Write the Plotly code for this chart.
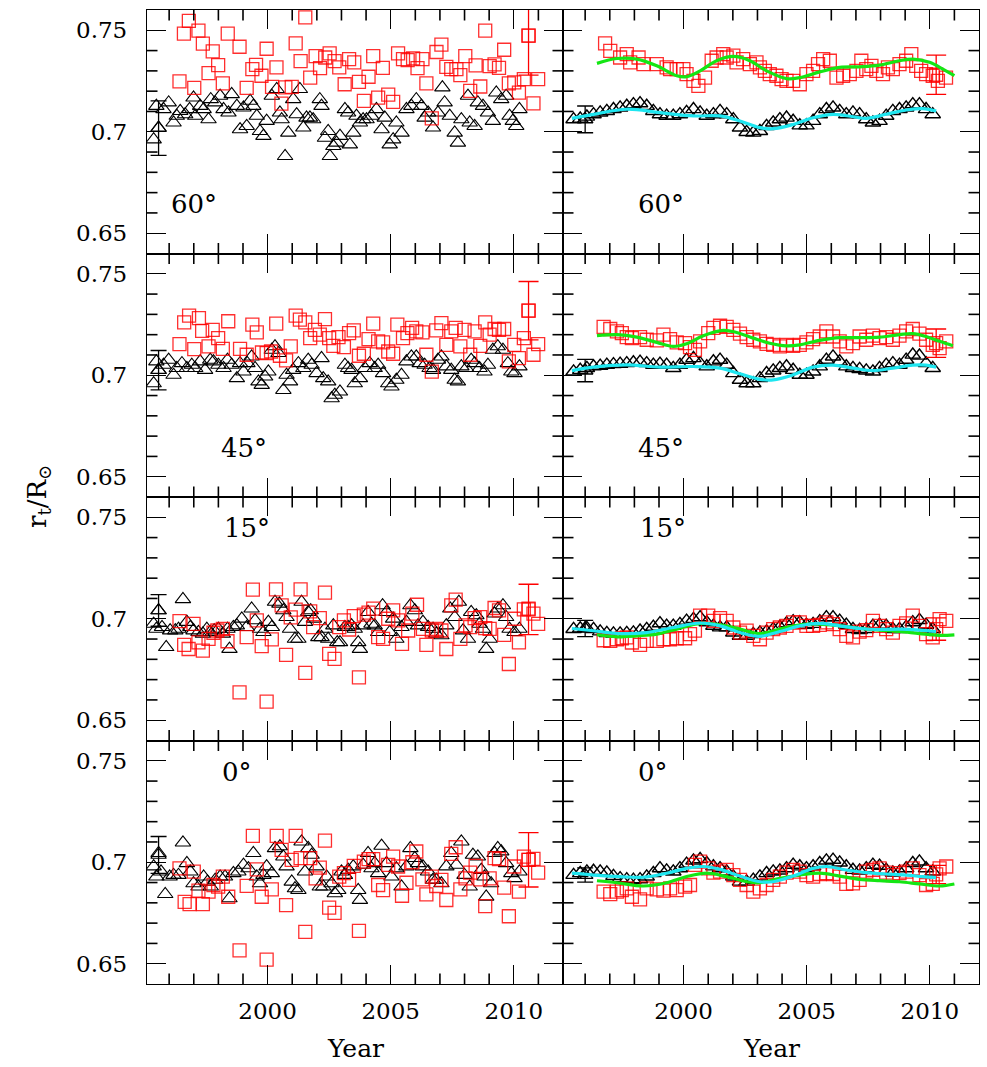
import plotly.graph_objects as go
from plotly.subplots import make_subplots

# ---------------- LEFT COLUMN ----------------
# 60 deg
L60_TRI_YR = [1995.37,1995.57,1995.48,1995.77,1995.98,1996.18,1996.31,1996.45,1996.65,1996.83,
              1996.99,1997.06,1997.26,1997.40,1997.60,1997.69,1997.87,1998.07,1998.21,1998.41,
              1998.54,1998.75,1998.88,1999.02,1999.15,1999.29,1999.42,1999.56,1999.69,1999.83,
              1999.96,2000.17,2000.37,2000.50,2000.57,2000.71,2000.84,2001.04,2001.18,2001.31,
              2001.45,2001.58,2001.72,2001.85,2002.12,2002.19,2002.33,2002.46,2002.53,2002.67,
              2002.80,2002.94,2003.14,2003.27,2003.34,2003.48,2003.61,2003.75,2003.88,2004.02,
              2004.22,2004.42,2004.63,2004.76,2004.96,2005.10,2005.23,2005.44,2005.64,2005.84,
              2006.04,2006.25,2006.38,2006.52,2006.72,2006.92,2007.10,2007.19,2007.40,2007.60,
              2007.73,2007.87,2008.14,2008.21,2008.41,2008.54,2008.75,2008.95,2009.15,2009.29,
              2009.49,2009.69,2009.83,2009.96,2010.10,2010.23]
L60_TRI_R = [0.6962,0.7020,0.7127,0.7111,0.7144,0.7045,0.7078,0.7102,0.7086,0.7111,
             0.7168,0.7078,0.7127,0.7111,0.7061,0.7160,0.7144,0.7177,0.7111,0.7094,
             0.7185,0.7127,0.7012,0.7119,0.7028,0.7152,0.7127,0.7078,0.7003,0.6979,
             0.7053,0.7177,0.7210,0.7094,0.7061,0.6880,0.6995,0.7160,0.7086,0.7210,
             0.7020,0.7069,0.7069,0.7061,0.7160,0.7127,0.6970,0.7003,0.6880,0.6929,
             0.6946,0.6979,0.7111,0.7094,0.6937,0.6995,0.7078,0.7045,0.7061,0.7061,
             0.7078,0.7111,0.7012,0.7069,0.6937,0.6962,0.7045,0.6995,0.7111,0.7127,
             0.7160,0.7127,0.7069,0.7094,0.7020,0.7094,0.7218,0.7144,0.7078,0.6995,
             0.6946,0.7061,0.7177,0.7045,0.7028,0.7144,0.7127,0.7094,0.7053,0.7193,
             0.7160,0.7177,0.7078,0.7053,0.7028,0.7111]
L60_SQ_YR = [1996.42,1996.60,1996.80,1997.02,1997.19,1997.37,1997.60,1997.77,1997.99,1998.18,
             1998.38,1998.86,1999.15,1999.38,1999.53,1999.75,1999.96,2000.18,2000.36,2000.56,
             2000.72,2000.98,2001.14,2001.34,2001.53,2001.73,2001.95,2002.13,2002.34,2002.52,
             2002.72,2002.91,2003.13,2003.31,2003.52,2003.71,2003.91,2004.10,2004.29,2004.49,
             2004.68,2004.90,2005.10,2005.30,2005.50,2005.69,2005.91,2006.09,2006.29,2006.45,
             2006.67,2006.86,2007.06,2007.26,2007.46,2007.67,2007.83,2008.03,2008.23,2008.45,
             2008.64,2008.84,2009.02,2009.22,2009.40,2009.61,2009.80,2010.02,2010.21,2010.41,
             2010.60,2010.80,2010.99]
L60_SQ_R = [0.7248,0.7484,0.7546,0.7216,0.7498,0.7434,0.7289,0.7396,0.7328,0.7238,
            0.7484,0.7419,0.7216,0.7309,0.7330,0.7276,0.7409,0.7221,0.7317,0.7139,
            0.7219,0.7221,0.7436,0.7348,0.7564,0.7267,0.7373,0.7314,0.7366,0.7386,
            0.7348,0.7317,0.7234,0.7358,0.7342,0.7246,0.7152,0.7271,0.7373,0.7168,
            0.7315,0.7183,0.7147,0.7386,0.7358,0.7353,0.7361,0.7314,0.7358,0.7238,
            0.7066,0.7393,0.7429,0.7320,0.7309,0.7309,0.7279,0.7373,0.7201,0.7327,
            0.7223,0.7498,0.7323,0.7332,0.7315,0.7404,0.7238,0.7243,0.7193,0.7259,
            0.7474,0.7140,0.7259]

# 45 deg
L45_TRI_YR = [1995.37,1995.57,1995.48,1995.77,1995.98,1996.18,1996.31,1996.52,1996.72,1996.92,
              1997.06,1997.26,1997.46,1997.67,1997.80,1998.00,1998.21,1998.37,1998.54,1998.75,
              1998.88,1999.02,1999.18,1999.35,1999.49,1999.63,1999.76,1999.90,2000.03,2000.17,
              2000.30,2000.44,2000.64,2000.77,2000.91,2001.04,2001.25,2001.45,2001.65,2001.79,
              2001.99,2002.19,2002.26,2002.46,2002.60,2002.73,2002.94,2003.14,2003.27,2003.41,
              2003.54,2003.75,2003.95,2004.15,2004.35,2004.49,2004.69,2004.90,2005.03,2005.23,
              2005.44,2005.64,2005.84,2006.04,2006.18,2006.38,2006.58,2006.72,2006.92,2007.06,
              2007.26,2007.46,2007.60,2007.73,2007.87,2008.07,2008.27,2008.41,2008.61,2008.81,
              2008.95,2009.15,2009.35,2009.56,2009.76,2009.90,2010.03,2010.23]
L45_TRI_R = [0.6960,0.7026,0.7068,0.7051,0.7076,0.7002,0.7035,0.7059,0.7035,0.7051,
             0.7035,0.7068,0.7026,0.7076,0.7068,0.7051,0.7035,0.7076,0.7051,0.6985,
             0.7059,0.7018,0.7059,0.7092,0.7035,0.6969,0.6952,0.6993,0.7018,0.7125,
             0.7142,0.7109,0.6927,0.7002,0.6969,0.7026,0.7059,0.7035,0.7076,0.7051,
             0.7010,0.7084,0.6985,0.6969,0.6886,0.6903,0.6919,0.7051,0.7035,0.7026,
             0.6960,0.6985,0.7035,0.7059,0.7035,0.7051,0.7010,0.6960,0.6944,0.6977,
             0.7002,0.7068,0.7092,0.7092,0.7059,0.7051,0.7035,0.7026,0.7076,0.7092,
             0.7043,0.7026,0.6977,0.6969,0.7043,0.7035,0.7076,0.7059,0.7035,0.7018,
             0.7051,0.7125,0.7142,0.7125,0.7059,0.7018,0.7010,0.7043]
L45_SQ_YR = [1996.42,1996.61,1996.81,1997.02,1997.21,1997.34,1997.60,1997.77,1997.99,1998.18,
             1998.40,1998.88,1999.15,1999.38,1999.56,1999.77,1999.96,2000.14,2000.35,2000.50,
             2000.75,2000.94,2001.14,2001.31,2001.53,2001.73,2001.92,2002.12,2002.33,2002.50,
             2002.67,2002.88,2003.10,2003.31,2003.50,2003.71,2003.91,2004.10,2004.29,2004.49,
             2004.69,2004.90,2005.10,2005.27,2005.50,2005.68,2005.87,2006.04,2006.29,2006.45,
             2006.67,2006.85,2007.06,2007.26,2007.46,2007.64,2007.83,2008.00,2008.23,2008.41,
             2008.64,2008.84,2009.02,2009.22,2009.40,2009.61,2009.80,2010.02,2010.21,2010.41,
             2010.60,2010.80,2010.99]
L45_SQ_R = [0.7153,0.7261,0.7294,0.7129,0.7282,0.7219,0.7142,0.7224,0.7183,0.7130,
            0.7266,0.7130,0.7101,0.7249,0.7211,0.7112,0.7109,0.7117,0.7254,0.7096,
            0.7073,0.7142,0.7294,0.7274,0.7261,0.7183,0.7224,0.7200,0.7277,0.7183,
            0.7145,0.7188,0.7139,0.7208,0.7221,0.7096,0.7106,0.7178,0.7254,0.7167,
            0.7162,0.7117,0.7106,0.7249,0.7183,0.7208,0.7233,0.7216,0.7211,0.7101,
            0.7018,0.7221,0.7257,0.7150,0.7216,0.7233,0.7142,0.7224,0.7101,0.7216,
            0.7145,0.7261,0.7200,0.7228,0.7224,0.7228,0.7068,0.7150,0.7084,0.7183,
            0.7318,0.7101,0.7153]

# 15 deg
L15_TRI_YR = [1995.37,1995.57,1995.48,1995.71,1995.88,1996.04,1996.25,1996.38,1996.56,1996.72,
              1996.86,1996.99,1997.19,1997.37,1997.53,1997.67,1997.83,1998.00,1998.18,1998.37,
              1998.45,1998.61,1998.75,1998.95,1999.15,1999.35,1999.49,1999.69,1999.83,2000.03,
              2000.17,2000.30,2000.48,2000.64,2000.77,2000.91,2001.11,2001.25,2001.38,2001.52,
              2001.65,2001.75,2001.88,2002.06,2002.19,2002.33,2002.46,2002.67,2002.83,2002.94,
              2003.14,2003.27,2003.41,2003.54,2003.68,2003.75,2003.88,2004.08,2004.22,2004.35,
              2004.49,2004.67,2004.83,2004.96,2005.10,2005.23,2005.44,2005.64,2005.80,2005.98,
              2006.11,2006.31,2006.52,2006.72,2006.85,2007.06,2007.26,2007.42,2007.60,2007.77,
              2007.94,2008.14,2008.27,2008.48,2008.61,2008.75,2008.88,2009.02,2009.22,2009.35,
              2009.56,2009.69,2009.83,2010.03,2010.23]
L15_TRI_R = [0.6975,0.7041,0.6950,0.6959,0.6860,0.6942,0.6942,0.6950,0.7096,0.6984,
             0.6959,0.6942,0.6934,0.6926,0.6950,0.6934,0.6942,0.6950,0.6926,0.6950,
             0.6851,0.6959,0.6967,0.7000,0.6959,0.7050,0.6992,0.6950,0.6934,0.6984,
             0.6959,0.7083,0.7074,0.7041,0.7008,0.6950,0.6901,0.6901,0.7083,0.6984,
             0.7033,0.7041,0.7000,0.6909,0.6909,0.6950,0.6901,0.6967,0.6884,0.6884,
             0.6959,0.6959,0.6967,0.6950,0.6884,0.6851,0.6967,0.7033,0.6975,0.6967,
             0.6934,0.7066,0.7033,0.6934,0.7000,0.6901,0.6959,0.6984,0.7066,0.7041,
             0.6967,0.6984,0.6959,0.6950,0.6926,0.6918,0.6967,0.7050,0.7008,0.7083,
             0.6942,0.6901,0.7033,0.7017,0.6975,0.6950,0.6851,0.6901,0.7025,0.7050,
             0.7066,0.7008,0.6950,0.6934,0.6950]
L15_SQ_YR = [1996.42,1996.61,1996.79,1996.99,1997.19,1997.37,1997.60,1997.80,1997.96,1998.18,
             1998.37,1998.86,1999.15,1999.40,1999.56,1999.76,1999.96,2000.17,2000.34,2000.57,
             2000.75,2000.94,2001.14,2001.34,2001.53,2001.73,2001.85,2002.12,2002.33,2002.50,
             2002.72,2002.91,2003.10,2003.31,2003.50,2003.71,2003.91,2004.10,2004.29,2004.49,
             2004.69,2004.90,2005.10,2005.30,2005.46,2005.71,2005.88,2006.07,2006.31,2006.45,
             2006.67,2006.85,2007.06,2007.26,2007.46,2007.64,2007.83,2008.04,2008.23,2008.41,
             2008.64,2008.84,2009.02,2009.22,2009.40,2009.61,2009.80,2010.02,2010.21,2010.41,
             2010.60,2010.80,2010.99]
L15_SQ_R = [0.6988,0.6871,0.6851,0.6975,0.6884,0.6843,0.6901,0.6931,0.6942,0.6950,
            0.6889,0.6637,0.6909,0.7144,0.6992,0.6865,0.6592,0.6898,0.7145,0.7066,
            0.6822,0.7007,0.7045,0.7145,0.6733,0.7036,0.6959,0.7003,0.7129,0.6827,
            0.6802,0.6959,0.6992,0.6947,0.7013,0.6711,0.7020,0.7030,0.7050,0.6909,
            0.6901,0.7000,0.7041,0.6992,0.6876,0.6942,0.7025,0.7069,0.6950,0.6871,
            0.6942,0.6950,0.6942,0.6851,0.7066,0.7094,0.6901,0.6967,0.6959,0.7003,
            0.7008,0.6954,0.6950,0.7053,0.7041,0.6921,0.6777,0.7000,0.6884,0.7046,
            0.7050,0.7025,0.6975]

# 0 deg
L00_TRI_YR = [1995.37,1995.57,1995.48,1995.67,1995.84,1996.02,1996.18,1996.38,1996.56,1996.72,
              1996.86,1996.99,1997.19,1997.40,1997.56,1997.69,1997.87,1998.07,1998.27,1998.45,
              1998.61,1998.81,1999.02,1999.22,1999.42,1999.56,1999.69,1999.83,1999.96,2000.17,
              2000.30,2000.50,2000.64,2000.77,2000.98,2001.11,2001.25,2001.38,2001.52,2001.65,
              2001.79,2001.99,2002.12,2002.26,2002.40,2002.60,2002.73,2002.87,2003.00,2003.14,
              2003.27,2003.48,2003.68,2003.75,2003.88,2004.08,2004.22,2004.35,2004.49,2004.63,
              2004.83,2005.03,2005.23,2005.44,2005.64,2005.80,2005.98,2006.11,2006.31,2006.52,
              2006.72,2006.85,2007.06,2007.26,2007.46,2007.67,2007.87,2008.00,2008.21,2008.34,
              2008.54,2008.68,2008.81,2008.88,2009.08,2009.22,2009.35,2009.49,2009.69,2009.90,
              2010.03,2010.23]
L00_TRI_R = [0.6979,0.7045,0.6929,0.6954,0.6843,0.6929,0.6937,0.6937,0.7097,0.6995,
             0.6954,0.6896,0.6880,0.6929,0.6904,0.6880,0.6913,0.6929,0.6929,0.6822,
             0.6946,0.6954,0.6987,0.6970,0.7045,0.6929,0.6896,0.6937,0.6979,0.6946,
             0.7069,0.7078,0.7028,0.6979,0.6904,0.6871,0.6863,0.7102,0.6954,0.7069,
             0.7036,0.6979,0.6880,0.6880,0.6929,0.6896,0.6847,0.6863,0.6954,0.6937,
             0.6962,0.6979,0.6863,0.6814,0.6987,0.7045,0.6970,0.6995,0.6946,0.7081,
             0.6995,0.6929,0.6970,0.6880,0.6979,0.7069,0.7020,0.6995,0.6979,0.6954,
             0.6913,0.6913,0.6896,0.6979,0.7045,0.6987,0.7102,0.6937,0.6880,0.7036,
             0.7028,0.6962,0.6929,0.6830,0.6896,0.7045,0.7069,0.7053,0.6995,0.6946,
             0.6921,0.6954]
L00_SQ_YR = [1996.42,1996.63,1996.83,1997.00,1997.19,1997.37,1997.60,1997.80,1997.99,1998.18,
             1998.40,1998.86,1999.15,1999.40,1999.56,1999.76,1999.96,2000.17,2000.37,2000.57,
             2000.75,2000.98,2001.14,2001.34,2001.53,2001.73,2001.95,2002.12,2002.33,2002.50,
             2002.72,2002.91,2003.10,2003.31,2003.50,2003.71,2003.91,2004.10,2004.29,2004.49,
             2004.69,2004.90,2005.10,2005.30,2005.46,2005.64,2005.88,2006.04,2006.29,2006.45,
             2006.67,2006.85,2007.06,2007.26,2007.46,2007.64,2007.83,2008.04,2008.23,2008.45,
             2008.64,2008.84,2009.02,2009.22,2009.40,2009.61,2009.80,2010.02,2010.21,2010.41,
             2010.60,2010.80,2010.99]
L00_SQ_R = [0.6970,0.6805,0.6794,0.6954,0.6860,0.6794,0.6855,0.6888,0.6880,0.6929,
            0.6830,0.6566,0.6884,0.7130,0.6965,0.6830,0.6520,0.6866,0.7130,0.7061,
            0.6789,0.7012,0.7130,0.7020,0.6657,0.7020,0.6921,0.6974,0.7107,0.6776,
            0.6751,0.6929,0.6946,0.6913,0.6982,0.6662,0.7003,0.7015,0.7015,0.6888,
            0.6863,0.6987,0.7028,0.6979,0.6835,0.6899,0.7000,0.7053,0.6916,0.6842,
            0.6929,0.6883,0.6913,0.6814,0.7041,0.7074,0.6866,0.6921,0.6949,0.6982,
            0.6916,0.6784,0.6921,0.7020,0.7015,0.6875,0.6734,0.6979,0.6855,0.7028,
            0.7012,0.7017,0.6949]

# ---------------- RIGHT COLUMN (smoothed) ----------------
RT_YR = [1995.53,1995.80,1996.07,1996.34,1996.61,1996.88,1997.15,1997.42,1997.69,1997.96,
         1998.23,1998.50,1998.77,1999.04,1999.31,1999.58,1999.85,2000.12,2000.40,2000.67,
         2000.94,2001.21,2001.48,2001.75,2002.02,2002.29,2002.56,2002.83,2003.10,2003.37,
         2003.64,2003.91,2004.18,2004.45,2004.72,2004.99,2005.26,2005.53,2005.80,2006.07,
         2006.34,2006.61,2006.88,2007.15,2007.42,2007.69,2007.96,2008.23,2008.50,2008.77,
         2009.04,2009.31,2009.58,2009.85,2010.12]
R60_TRI_R = [0.7061,0.7064,0.7074,0.7086,0.7094,0.7102,0.7111,0.7119,0.7127,0.7135,
             0.7140,0.7127,0.7102,0.7086,0.7078,0.7078,0.7086,0.7097,0.7111,0.7094,
             0.7078,0.7086,0.7102,0.7086,0.7061,0.7020,0.6998,0.6995,0.7003,0.7028,
             0.7045,0.7061,0.7069,0.7053,0.7031,0.7031,0.7053,0.7086,0.7111,0.7119,
             0.7102,0.7086,0.7094,0.7086,0.7061,0.7045,0.7053,0.7078,0.7102,0.7111,
             0.7119,0.7135,0.7135,0.7111,0.7086]
R45_TRI_R = [0.7018,0.7026,0.7035,0.7043,0.7046,0.7051,0.7054,0.7056,0.7059,0.7063,
             0.7066,0.7059,0.7051,0.7056,0.7051,0.7035,0.7051,0.7076,0.7084,0.7059,
             0.7043,0.7068,0.7076,0.7051,0.7010,0.6977,0.6960,0.6960,0.6985,0.7010,
             0.7023,0.7035,0.7043,0.7026,0.7002,0.7002,0.7018,0.7043,0.7076,0.7092,
             0.7068,0.7043,0.7035,0.7030,0.7023,0.7018,0.7035,0.7051,0.7059,0.7051,
             0.7076,0.7101,0.7096,0.7059,0.7035]
R15_TRI_R = [0.6949,0.6952,0.6954,0.6949,0.6937,0.6929,0.6927,0.6927,0.6929,0.6932,
             0.6941,0.6949,0.6960,0.6977,0.6965,0.6965,0.6974,0.6990,0.6998,0.7007,
             0.6982,0.6965,0.6957,0.6957,0.6932,0.6916,0.6916,0.6924,0.6932,0.6937,
             0.6949,0.6960,0.6977,0.6987,0.6982,0.6970,0.6974,0.6987,0.7007,0.7007,
             0.6990,0.6970,0.6949,0.6944,0.6949,0.6965,0.6970,0.6965,0.6949,0.6949,
             0.6960,0.6982,0.6993,0.6970,0.6949]
R00_TRI_R = [0.6937,0.6946,0.6954,0.6957,0.6954,0.6949,0.6932,0.6921,0.6916,0.6913,
             0.6916,0.6929,0.6946,0.6970,0.6959,0.6954,0.6970,0.6992,0.7008,0.7015,
             0.6995,0.6979,0.6970,0.6954,0.6929,0.6904,0.6904,0.6913,0.6929,0.6946,
             0.6954,0.6959,0.6970,0.6987,0.6979,0.6970,0.6979,0.6995,0.7008,0.7012,
             0.6998,0.6979,0.6962,0.6959,0.6970,0.6987,0.6982,0.6962,0.6949,0.6954,
             0.6970,0.6995,0.7003,0.6970,0.6954]

R60_SQ_YR = [1996.81,1997.02,1997.42,1997.69,1997.83,1998.17,1998.37,1998.91,1999.31,1999.45,
             1999.72,1999.99,2000.12,2000.40,2000.60,2000.87,2001.14,2001.34,2001.61,2001.75,
             2002.02,2002.15,2002.42,2002.69,2002.96,2003.10,2003.30,2003.50,2003.77,2003.98,
             2004.18,2004.45,2004.72,2004.99,2005.26,2005.46,2005.67,2005.94,2006.21,2006.48,
             2006.75,2007.02,2007.22,2007.42,2007.63,2007.83,2008.10,2008.30,2008.50,2008.77,
             2009.04,2009.25,2009.45,2009.65,2009.85,2010.12,2010.33,2010.66]
R60_SQ_R = [0.7436,0.7399,0.7366,0.7383,0.7342,0.7366,0.7333,0.7333,0.7317,0.7309,
            0.7309,0.7309,0.7284,0.7251,0.7226,0.7267,0.7350,0.7366,0.7383,0.7366,
            0.7375,0.7342,0.7358,0.7333,0.7342,0.7317,0.7300,0.7284,0.7276,0.7259,
            0.7251,0.7251,0.7234,0.7284,0.7300,0.7333,0.7358,0.7350,0.7267,0.7276,
            0.7284,0.7300,0.7350,0.7309,0.7325,0.7300,0.7284,0.7317,0.7309,0.7333,
            0.7350,0.7383,0.7325,0.7300,0.7284,0.7276,0.7251,0.7267]
RS_YR = [1996.75,1997.02,1997.29,1997.49,1997.69,1997.90,1998.23,1998.50,1998.91,1999.18,
         1999.45,1999.72,2000.06,2000.26,2000.46,2000.67,2001.00,2001.21,2001.48,2001.75,
         2002.02,2002.29,2002.56,2002.83,2003.10,2003.37,2003.64,2003.91,2004.18,2004.45,
         2004.72,2004.99,2005.26,2005.53,2005.80,2006.07,2006.34,2006.61,2006.88,2007.15,
         2007.42,2007.69,2007.96,2008.23,2008.50,2008.77,2009.04,2009.31,2009.58,2009.85,
         2010.12,2010.40,2010.67]
R45_SQ_R = [0.7238,0.7228,0.7216,0.7208,0.7188,0.7183,0.7188,0.7175,0.7172,0.7200,
            0.7178,0.7162,0.7158,0.7139,0.7125,0.7167,0.7208,0.7233,0.7244,0.7238,
            0.7224,0.7205,0.7188,0.7175,0.7167,0.7155,0.7150,0.7142,0.7150,0.7145,
            0.7150,0.7162,0.7178,0.7191,0.7216,0.7191,0.7167,0.7142,0.7158,0.7191,
            0.7175,0.7195,0.7183,0.7188,0.7175,0.7195,0.7216,0.7228,0.7205,0.7175,
            0.7150,0.7134,0.7167]
R15_SQ_R = [0.6894,0.6891,0.6899,0.6904,0.6908,0.6883,0.6871,0.6891,0.6891,0.6899,
            0.6899,0.6904,0.6904,0.6924,0.6941,0.7015,0.7015,0.6990,0.7003,0.6990,
            0.6957,0.6932,0.6941,0.6916,0.6899,0.6932,0.6949,0.6957,0.6965,0.6982,
            0.6982,0.6965,0.6965,0.6970,0.6982,0.6974,0.6949,0.6916,0.6908,0.6937,
            0.6944,0.6990,0.6965,0.6949,0.6932,0.6965,0.6977,0.7015,0.6965,0.6924,
            0.6908,0.6998,0.6990]
R00_SQ_R = [0.6855,0.6843,0.6855,0.6863,0.6871,0.6830,0.6817,0.6871,0.6866,0.6860,
            0.6871,0.6863,0.6880,0.6888,0.6987,0.7003,0.6970,0.6949,0.6954,0.6962,
            0.6937,0.6913,0.6888,0.6855,0.6871,0.6888,0.6913,0.6929,0.6949,0.6962,
            0.6954,0.6937,0.6929,0.6942,0.6946,0.6942,0.6929,0.6893,0.6896,0.6913,
            0.6954,0.6962,0.6970,0.6949,0.6937,0.6946,0.6954,0.6970,0.6937,0.6888,
            0.6893,0.6970,0.6979]

# fitted curves (green: squares, cyan: triangles)
G60_YR = [1996.48,1997.29,1998.10,1998.91,1999.72,2000.12,2000.67,2001.34,2002.02,2002.69,2003.37,
          2004.18,2004.72,2005.53,2006.34,2007.15,2007.96,2008.77,2009.31,2009.99,2010.53,2011.00]
G60_R = [0.7337,0.7361,0.7358,0.7325,0.7276,0.7271,0.7300,0.7350,0.7371,0.7350,0.7300,
         0.7262,0.7267,0.7295,0.7317,0.7320,0.7328,0.7350,0.7358,0.7342,0.7309,0.7276]
C60_YR = [1995.46,1996.34,1997.69,1999.04,2000.40,2001.48,2002.29,2003.10,2003.64,2004.45,
          2005.26,2006.07,2006.88,2007.42,2008.23,2009.04,2009.72,2010.26]
C60_R = [0.7066,0.7086,0.7111,0.7094,0.7078,0.7078,0.7053,0.7020,0.7015,0.7036,
         0.7069,0.7086,0.7074,0.7066,0.7086,0.7107,0.7114,0.7102]
G45_YR = [1996.48,1997.29,1998.10,1998.91,1999.58,2000.12,2000.80,2001.61,2002.15,2002.83,2003.50,
          2004.18,2004.72,2005.53,2006.34,2007.15,2007.96,2008.77,2009.31,2009.85,2010.40,2010.94]
G45_R = [0.7195,0.7200,0.7188,0.7162,0.7142,0.7155,0.7195,0.7221,0.7211,0.7183,0.7158,
         0.7145,0.7150,0.7172,0.7185,0.7185,0.7188,0.7200,0.7205,0.7191,0.7167,0.7145]
C45_YR = [1995.46,1996.34,1997.69,1999.04,2000.40,2001.48,2002.29,2003.10,2003.64,2004.45,
          2005.26,2006.07,2006.88,2007.69,2008.50,2009.31,2009.85,2010.26]
C45_R = [0.7023,0.7040,0.7051,0.7040,0.7043,0.7035,0.7007,0.6980,0.6977,0.7002,
         0.7040,0.7050,0.7035,0.7023,0.7035,0.7050,0.7050,0.7040]
G15_YR = [1996.48,1997.29,1998.10,1998.91,1999.72,2000.67,2001.48,2002.29,2003.10,2003.91,
          2004.72,2005.53,2006.34,2007.15,2007.96,2008.77,2009.58,2010.40,2011.00]
G15_R = [0.6921,0.6911,0.6916,0.6924,0.6949,0.6977,0.6970,0.6949,0.6927,0.6949,
         0.6970,0.6974,0.6965,0.6952,0.6944,0.6937,0.6927,0.6918,0.6921]
C15_YR = [1995.46,1996.34,1997.42,1998.50,1999.58,2000.67,2001.48,2002.29,2003.10,2003.91,
          2004.72,2005.53,2006.34,2007.15,2007.96,2008.77,2009.58,2010.26]
C15_R = [0.6952,0.6941,0.6927,0.6932,0.6957,0.6979,0.6965,0.6932,0.6913,0.6937,
         0.6965,0.6977,0.6965,0.6952,0.6947,0.6949,0.6944,0.6937]
G00_YR = [1996.48,1997.29,1998.37,1999.31,2000.12,2000.94,2001.75,2002.56,2003.10,2003.91,
          2004.72,2005.53,2006.34,2007.15,2007.96,2008.77,2009.58,2010.40,2011.00]
G00_R = [0.6909,0.6899,0.6883,0.6899,0.6929,0.6946,0.6929,0.6904,0.6899,0.6921,
         0.6937,0.6946,0.6932,0.6916,0.6909,0.6904,0.6893,0.6883,0.6893]
C00_YR = [1995.46,1996.34,1997.42,1998.37,1999.31,2000.12,2000.80,2001.48,2002.29,2003.10,
          2003.64,2004.45,2005.26,2005.80,2006.61,2007.42,2008.23,2009.04,2009.72,2010.26]
C00_R = [0.6946,0.6937,0.6929,0.6926,0.6946,0.6970,0.6979,0.6965,0.6932,0.6904,
         0.6904,0.6932,0.6970,0.6979,0.6962,0.6949,0.6942,0.6937,0.6929,0.6924]

# representative error bars: (year, value, error) per row (60, 45, 15, 0)
L_TRI_ERR = [(1995.57, 0.7018, 0.0134), (1995.57, 0.7025, 0.0097), (1995.57, 0.7041, 0.0078), (1995.57, 0.7036, 0.0091)]
L_SQ_ERR = [(2010.60, 0.7474, 0.0195), (2010.60, 0.7318, 0.0144), (2010.60, 0.7046, 0.0124), (2010.60, 0.7012, 0.0134)]
R_TRI_ERR = [(1996.00, 0.7061, 0.0066), (1996.00, 0.7023, 0.0055), (1996.00, 0.6952, 0.0040), (1996.00, 0.6937, 0.0035)]
R_SQ_ERR = [(2010.26, 0.7281, 0.0097), (2010.26, 0.7158, 0.0070), (2010.26, 0.6949, 0.0055), (2010.26, 0.6940, 0.0045)]

LAT_LABELS = ["60°", "45°", "15°", "0°"]
X_RANGE = [1995.1, 2012.0]
Y_RANGE = [0.64, 0.76]
X_MINOR = [1996, 1997, 1998, 1999, 2001, 2002, 2003, 2004, 2006, 2007, 2008, 2009, 2011]
Y_MINOR = [0.66, 0.67, 0.68, 0.69, 0.71, 0.72, 0.73, 0.74]

# ---------------- FIGURE ----------------
FONT = "DejaVu Serif"
TRI_COLOR = "black"
SQ_COLOR = "rgba(255,0,0,0.82)"
GREEN = "#14e614"
CYAN = "#1ee6f0"

W, H = 987, 1067
ML, MR, MT, MB = 147, 8, 10, 83
PANEL_W = (W - ML - MR) / 2.0
PANEL_H = (H - MT - MB) / 4.0
MAJOR_LEN = 19
MINOR_LEN = 10.5

fig = make_subplots(rows=4, cols=2, horizontal_spacing=0, vertical_spacing=0)

left_sets = [(L60_TRI_YR, L60_TRI_R, L60_SQ_YR, L60_SQ_R),
             (L45_TRI_YR, L45_TRI_R, L45_SQ_YR, L45_SQ_R),
             (L15_TRI_YR, L15_TRI_R, L15_SQ_YR, L15_SQ_R),
             (L00_TRI_YR, L00_TRI_R, L00_SQ_YR, L00_SQ_R)]
right_sets = [(RT_YR, R60_TRI_R, R60_SQ_YR, R60_SQ_R, G60_YR, G60_R, C60_YR, C60_R),
              (RT_YR, R45_TRI_R, RS_YR, R45_SQ_R, G45_YR, G45_R, C45_YR, C45_R),
              (RT_YR, R15_TRI_R, RS_YR, R15_SQ_R, G15_YR, G15_R, C15_YR, C15_R),
              (RT_YR, R00_TRI_R, RS_YR, R00_SQ_R, G00_YR, G00_R, C00_YR, C00_R)]


def pair(a, b):
    n = min(len(a), len(b))
    return list(a[:n]), list(b[:n])


tri_marker = dict(symbol="triangle-up-open", size=13.5, color=TRI_COLOR, line=dict(width=1.1, color=TRI_COLOR))
tri_marker_r = dict(symbol="triangle-up-open", size=13.5, color=TRI_COLOR, line=dict(width=1.4, color=TRI_COLOR))
sq_marker = dict(symbol="square-open", size=13, color=SQ_COLOR, line=dict(width=1.3, color=SQ_COLOR))


def err_trace(e, marker, color, width):
    return go.Scatter(x=[e[0]], y=[e[1]], mode="markers", marker=marker, showlegend=False,
                      hoverinfo="skip",
                      error_y=dict(type="data", array=[e[2]], visible=True, color=color,
                                   thickness=1.3, width=width))


axis_common = dict(showgrid=False, zeroline=False, showline=True, linecolor="black", linewidth=1.3,
                   mirror="ticks", ticks="inside", tickcolor="black", tickwidth=1.3, ticklen=MAJOR_LEN,
                   tickfont=dict(family=FONT, size=23, color="black"))

for i in range(4):
    r = i + 1
    for c in (1, 2):
        fig.update_xaxes(range=X_RANGE, tickmode="linear", tick0=2000, dtick=5,
                         showticklabels=(r == 4), ticklabelstandoff=6,
                         row=r, col=c, **axis_common)
        fig.update_yaxes(range=Y_RANGE, tickmode="linear", tick0=0.65, dtick=0.05,
                         showticklabels=(c == 1), ticklabelstandoff=14,
                         row=r, col=c, **axis_common)

# minor tick marks (inside, all four sides of every panel), as paper-referenced shapes
shapes = []
tick_line = dict(color="black", width=1.6)
for i in range(4):
    y_bot = MB + (3 - i) * PANEL_H          # pixel distance from the figure bottom
    y_top = y_bot + PANEL_H
    for c in range(2):
        x_left = ML + c * PANEL_W
        x_right = x_left + PANEL_W
        for xv in X_MINOR:
            px = x_left + (xv - X_RANGE[0]) / (X_RANGE[1] - X_RANGE[0]) * PANEL_W
            for y0, y1 in ((y_bot, y_bot + MINOR_LEN), (y_top - MINOR_LEN, y_top)):
                shapes.append(dict(type="line", xref="paper", yref="paper",
                                   x0=(px - ML) / (W - ML - MR), x1=(px - ML) / (W - ML - MR),
                                   y0=(y0 - MB) / (H - MT - MB), y1=(y1 - MB) / (H - MT - MB),
                                   line=tick_line, layer="above"))
        for yv in Y_MINOR:
            py = y_bot + (yv - Y_RANGE[0]) / (Y_RANGE[1] - Y_RANGE[0]) * PANEL_H
            for x0, x1 in ((x_left, x_left + MINOR_LEN), (x_right - MINOR_LEN, x_right)):
                shapes.append(dict(type="line", xref="paper", yref="paper",
                                   x0=(x0 - ML) / (W - ML - MR), x1=(x1 - ML) / (W - ML - MR),
                                   y0=(py - MB) / (H - MT - MB), y1=(py - MB) / (H - MT - MB),
                                   line=tick_line, layer="above"))

for i in range(4):
    r = i + 1
    ty, tv, sy, sv = left_sets[i]
    x, y = pair(ty, tv)
    fig.add_trace(go.Scatter(x=x, y=y, mode="markers", marker=tri_marker, showlegend=False), row=r, col=1)
    fig.add_trace(err_trace(L_TRI_ERR[i], tri_marker, TRI_COLOR, 8), row=r, col=1)
    x, y = pair(sy, sv)
    fig.add_trace(go.Scatter(x=x, y=y, mode="markers", marker=sq_marker, showlegend=False), row=r, col=1)
    fig.add_trace(err_trace(L_SQ_ERR[i], sq_marker, "red", 10), row=r, col=1)

    ty, tv, sy, sv, gy, gv, cy, cv = right_sets[i]
    x, y = pair(ty, tv)
    fig.add_trace(go.Scatter(x=x, y=y, mode="markers", marker=tri_marker_r, showlegend=False), row=r, col=2)
    fig.add_trace(err_trace(R_TRI_ERR[i], tri_marker_r, TRI_COLOR, 8), row=r, col=2)
    x, y = pair(sy, sv)
    fig.add_trace(go.Scatter(x=x, y=y, mode="markers", marker=sq_marker, showlegend=False), row=r, col=2)
    fig.add_trace(err_trace(R_SQ_ERR[i], sq_marker, "red", 10), row=r, col=2)
    x, y = pair(gy, gv)
    fig.add_trace(go.Scatter(x=x, y=y, mode="lines", line=dict(color=GREEN, width=3.2, shape="spline", smoothing=1.0),
                             showlegend=False), row=r, col=2)
    x, y = pair(cy, cv)
    fig.add_trace(go.Scatter(x=x, y=y, mode="lines", line=dict(color=CYAN, width=3.2, shape="spline", smoothing=1.0),
                             showlegend=False), row=r, col=2)

# latitude labels
lab_pos = [  # (x in left domain, x in right domain, y in domain)
    (0.054, 0.176, 0.204),
    (0.174, 0.176, 0.200),
    (0.181, 0.181, 0.873),
    (0.176, 0.176, 0.872),
]
for i in range(4):
    xl, xr_, yd = lab_pos[i]
    for c, xd in ((1, xl), (2, xr_)):
        idx = (i * 2 + c)
        xref = "x domain" if idx == 1 else f"x{idx} domain"
        yref = "y domain" if idx == 1 else f"y{idx} domain"
        fig.add_annotation(text=LAT_LABELS[i], x=xd, y=yd, xref=xref, yref=yref,
                           xanchor="left", yanchor="middle", showarrow=False,
                           font=dict(family=FONT, size=26, color="black"))

for xc in (0.25, 0.75):
    fig.add_annotation(text="Year", x=xc, y=-0.066, xref="paper", yref="paper",
                       xanchor="center", yanchor="middle", showarrow=False,
                       font=dict(family=FONT, size=25, color="black"))

fig.add_annotation(text="r<sub>t</sub>/R<sub>⊙</sub>", x=-0.131, y=0.5, xref="paper", yref="paper",
                   xanchor="center", yanchor="middle", textangle=-90, showarrow=False,
                   font=dict(family=FONT, size=26, color="black"))

fig.update_layout(width=W, height=H, margin=dict(l=ML, r=MR, t=MT, b=MB),
                  paper_bgcolor="white", plot_bgcolor="white", showlegend=False,
                  shapes=shapes)

fig.write_html("out.html")
